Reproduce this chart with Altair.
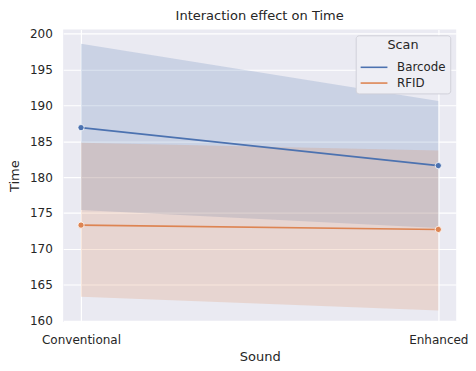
import altair as alt
import pandas as pd

sounds = ["Conventional", "Enhanced"]
scans = ["Barcode", "RFID"]
barcode_mean = [186.9, 181.6]
barcode_lo = [175.4, 172.9]
barcode_hi = [198.6, 190.6]
rfid_mean = [173.3, 172.7]
rfid_lo = [163.3, 161.4]
rfid_hi = [184.8, 183.7]
y_ticks = [160, 165, 170, 175, 180, 185, 190, 195, 200]

rows = []
for i, s in enumerate(sounds):
    rows.append(dict(Sound=s, Scan="Barcode", Time=barcode_mean[i], lo=barcode_lo[i], hi=barcode_hi[i]))
    rows.append(dict(Sound=s, Scan="RFID", Time=rfid_mean[i], lo=rfid_lo[i], hi=rfid_hi[i]))
df = pd.DataFrame(rows)

font = "DejaVu Sans"
txt = "#262626"
colors = ["#4C72B0", "#DD8452"]

x = alt.X("Sound:N", sort=sounds, scale=alt.Scale(type="point", padding=0.05),
          axis=alt.Axis(title="Sound", labelAngle=0, grid=True, gridColor="white", gridWidth=1.2,
                        domain=False, ticks=False, labelPadding=12, titlePadding=5,
                        labelFontSize=12.2, titleFontSize=13.2, labelColor=txt, titleColor=txt,
                        labelFont=font, titleFont=font, titleFontWeight="normal"))
yscale = alt.Scale(domain=[159.8, 200.6], nice=False, zero=False)
yaxis = alt.Axis(title="Time", values=y_ticks, grid=True, gridColor="white", gridWidth=1.2,
                 domain=False, ticks=False, labelPadding=11, titlePadding=8,
                 labelFontSize=12.2, titleFontSize=13.2, labelColor=txt, titleColor=txt,
                 labelFont=font, titleFont=font, titleFontWeight="normal")
color = alt.Color("Scan:N", scale=alt.Scale(domain=scans, range=colors),
                  legend=alt.Legend(title="Scan", orient="top-right", offset=6,
                                    symbolType="M-1,0H2.2", symbolStrokeWidth=1.6, symbolSize=289,
                                    symbolOpacity=1, symbolFillColor="transparent",
                                    fillColor="#EEEEF4", strokeColor="#D0D0D8", cornerRadius=3,
                                    padding=4, titleFontSize=13, labelFontSize=12,
                                    titleFontWeight="normal", titleColor=txt, labelColor=txt,
                                    titleFont=font, labelFont=font, titleAnchor="middle",
                                    titleAlign="center",
                                    titlePadding=6, rowPadding=0, labelOffset=19))

base = alt.Chart(df)
band = base.mark_area(opacity=0.2, line=False).encode(
    x=x, y=alt.Y("lo:Q", scale=yscale, axis=yaxis), y2="hi:Q", color=color)
line = base.mark_line(strokeWidth=1.6).encode(
    x=x, y=alt.Y("Time:Q", scale=yscale, axis=yaxis), color=color)
pts = base.mark_point(filled=True, size=40, opacity=1, stroke="white", strokeWidth=0.8).encode(
    x=x, y=alt.Y("Time:Q", scale=yscale, axis=yaxis),
    color=alt.Color("Scan:N", scale=alt.Scale(domain=scans, range=colors), legend=None))

chart = alt.layer(band, line, pts).properties(
    width=399, height=297,
    title=alt.TitleParams("Interaction effect on Time", fontSize=13.2, font=font, color=txt,
                          fontWeight="normal", offset=5),
    padding={"left": 56, "top": 19, "right": 12, "bottom": 40},
    autosize=alt.AutoSizeParams(type="none"),
    background="white",
).configure_view(fill="#EAEAF2", stroke=None)

chart.save("out.html", embed_options={"renderer": "svg", "actions": False})
